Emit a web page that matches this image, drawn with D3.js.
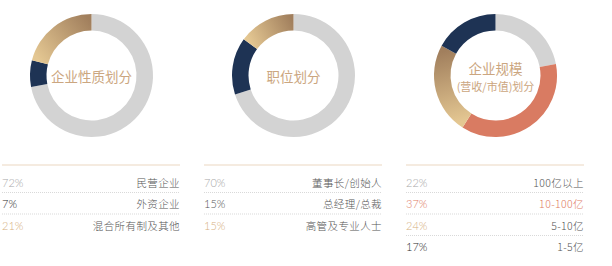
<!DOCTYPE html>
<html>
<head>
<meta charset="utf-8">
<script src="https://cdn.jsdelivr.net/npm/d3@7"></script>
<style>
  body { margin: 0; background: #fff; }
  svg { display: block; }
</style>
</head>
<body>
<div id="chart"></div>
<script>
// Data
var titles = [["企业性质划分"], ["职位划分"], ["企业规模", "(营收/市值)划分"]];
var natureShares = [72, 7, 21];
var natureLabels = ["民营企业", "外资企业", "混合所有制及其他"];
var natureKinds = ["gray", "navy", "gold"];
var roleShares = [70, 15, 15];
var roleLabels = ["董事长/创始人", "总经理/总裁", "高管及专业人士"];
var roleKinds = ["gray", "navy2", "gold"];
var sizeShares = [22, 37, 24, 17];
var sizeLabels = ["100亿以上", "10-100亿", "5-10亿", "1-5亿"];
var sizeKinds = ["gray", "salmon", "gold", "navy"];

var panels = [
  { title: titles[0], shares: natureShares, labels: natureLabels, kinds: natureKinds },
  { title: titles[1], shares: roleShares, labels: roleLabels, kinds: roleKinds },
  { title: titles[2], shares: sizeShares, labels: sizeLabels, kinds: sizeKinds }
];

// Styling
var arcFill = { gray: "#d3d3d3", navy: "#1e3354", navy2: "#1e3354", salmon: "#d97b62" };
var pctColor = { gray: "#a8a8a8", navy: "#2a2a2a", navy2: "#555555", salmon: "#e07b63", gold: "#d6b080" };
var labelColor = { gray: "#555555", navy: "#555555", navy2: "#555555", salmon: "#e07b63", gold: "#555555" };
var cjk = "'Noto Sans CJK SC', 'Noto Sans', sans-serif";

var width = 612, height = 266;
var panelWidth = 202;
var tableWidth = 178;

var svg = d3.select("#chart")
  .append("svg")
  .attr("width", width)
  .attr("height", height);

var defs = svg.append("defs");

var pie = d3.pie().sort(null).value(d => d).startAngle(0).endAngle(2 * Math.PI);
var arc = d3.arc().innerRadius(45).outerRadius(61.5);

panels.forEach(function(p, i) {
  var g = svg.append("g")
    .attr("transform", `translate(${i * panelWidth + 2}, 0)`);

  // donut
  var cx = 89.5, cy = 75.5;
  var donut = g.append("g").attr("transform", `translate(${cx}, ${cy})`);

  var arcs = pie(p.shares);
  arcs.forEach(function(a, j) {
    var kind = p.kinds[j];
    var fill = arcFill[kind];
    if (kind === "gold") {
      // gradient from arc start (light) to arc end (dark)
      var r = 53;
      var id = "gold" + i;
      defs.append("linearGradient")
        .attr("id", id)
        .attr("gradientUnits", "userSpaceOnUse")
        .attr("x1", r * Math.sin(a.startAngle)).attr("y1", -r * Math.cos(a.startAngle))
        .attr("x2", r * Math.sin(a.endAngle)).attr("y2", -r * Math.cos(a.endAngle))
        .selectAll("stop")
        .data([["0%", "#e4c792"], ["100%", "#a17f5d"]])
        .enter().append("stop")
        .attr("offset", d => d[0])
        .attr("stop-color", d => d[1]);
      fill = `url(#${id})`;
    }
    donut.append("path")
      .attr("d", arc(a))
      .attr("fill", fill);
  });

  // center title
  var lines = p.title;
  donut.selectAll("text.title")
    .data(lines)
    .enter()
    .append("text")
    .attr("class", "title")
    .attr("x", 0)
    .attr("y", (d, k) => lines.length === 1 ? 0 : (k === 0 ? -7.5 : 10))
    .attr("text-anchor", "middle")
    .attr("dominant-baseline", "central")
    .style("font-family", cjk)
    .style("font-size", (d, k) => k === 0 ? "13.5px" : "11px")
    .style("fill", "#cba680")
    .text(d => d);

  // table
  var rowY = d3.scaleLinear().domain([0, 1]).range([182, 203.5]);

  g.append("line")
    .attr("x1", 0).attr("x2", tableWidth)
    .attr("y1", 165).attr("y2", 165)
    .attr("stroke", "#f2e4d6")
    .attr("stroke-width", 1.3);

  p.shares.forEach(function(v, j) {
    var y = rowY(j);
    if (j < p.shares.length - 1) {
      g.append("line")
        .attr("x1", 0).attr("x2", tableWidth)
        .attr("y1", y + 10.5).attr("y2", y + 10.5)
        .attr("stroke", "#cfcfcf")
        .attr("stroke-width", 0.8)
        .attr("stroke-dasharray", "1,1");
    }
    g.append("text")
      .attr("x", 0)
      .attr("y", y)
      .attr("dominant-baseline", "central")
      .style("font-family", "Lato, 'Open Sans', sans-serif")
      .style("font-weight", 300)
      .style("font-size", "11px")
      .style("fill", pctColor[p.kinds[j]])
      .text(v + "%");
    g.append("text")
      .attr("x", tableWidth)
      .attr("y", y)
      .attr("text-anchor", "end")
      .attr("dominant-baseline", "central")
      .style("font-family", cjk)
      .style("font-weight", 300)
      .style("font-size", "10.5px")
      .style("letter-spacing", "0.4px")
      .style("fill", labelColor[p.kinds[j]])
      .text(p.labels[j]);
  });
});
</script>
</body>
</html>
